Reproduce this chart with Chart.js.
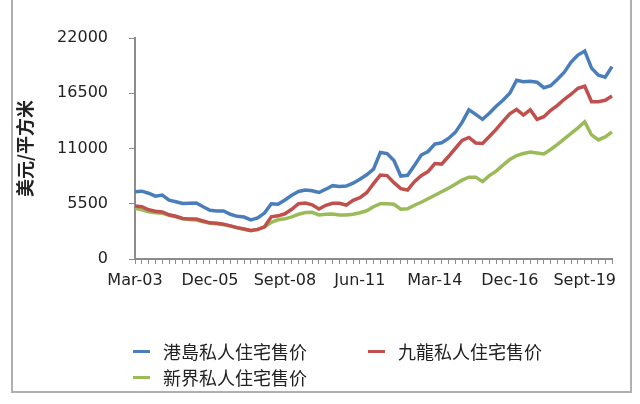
<!DOCTYPE html>
<html>
<head>
<meta charset="utf-8">
<script src="https://cdn.jsdelivr.net/npm/chart.js@4"></script>
<style>
  html, body { margin: 0; padding: 0; background: #fff; }
  #wrap { position: relative; width: 640px; height: 404px; }
  #priceChart { position: absolute; left: 0; top: 0; }
  #frame {
    position: absolute; left: 11px; top: -2px; width: 617px; height: 391px;
    border: 2px solid #b0b0b0; pointer-events: none;
  }
  .legend { position: absolute; left: 0; top: 0; width: 640px; height: 404px;
            font: 18px "Noto Sans CJK SC", sans-serif; color: #222; pointer-events: none; }
  .legend div { position: absolute; white-space: nowrap; height: 24px; line-height: 24px; }
  .legend span.sw { position: absolute; left: 0; top: 11px; width: 17px; height: 3px; }
  .legend span.tx { position: absolute; left: 30px; top: 0; }
</style>
</head>
<body>
<div id="wrap">
  <canvas id="priceChart" width="640" height="404"></canvas>
  <div id="frame"></div>
  <div class="legend" id="legend"></div>
</div>
<script>
// quarterly categories, Mar-03 .. Sept-20
const quarters = [
  "Mar-03","Jun-03","Sept-03","Dec-03","Mar-04","Jun-04","Sept-04","Dec-04",
  "Mar-05","Jun-05","Sept-05","Dec-05","Mar-06","Jun-06","Sept-06","Dec-06",
  "Mar-07","Jun-07","Sept-07","Dec-07","Mar-08","Jun-08","Sept-08","Dec-08",
  "Mar-09","Jun-09","Sept-09","Dec-09","Mar-10","Jun-10","Sept-10","Dec-10",
  "Mar-11","Jun-11","Sept-11","Dec-11","Mar-12","Jun-12","Sept-12","Dec-12",
  "Mar-13","Jun-13","Sept-13","Dec-13","Mar-14","Jun-14","Sept-14","Dec-14",
  "Mar-15","Jun-15","Sept-15","Dec-15","Mar-16","Jun-16","Sept-16","Dec-16",
  "Mar-17","Jun-17","Sept-17","Dec-17","Mar-18","Jun-18","Sept-18","Dec-18",
  "Mar-19","Jun-19","Sept-19","Dec-19","Mar-20","Jun-20","Sept-20"
];

// 港島
const hkIsland = [
  6700, 6750, 6550, 6250, 6370, 5850, 5700, 5520, 5550, 5580,
  5200, 4850, 4780, 4780, 4450, 4250, 4180, 3900, 4080, 4570,
  5500, 5450, 5870, 6350, 6720, 6870, 6800, 6620, 6950, 7300,
  7220, 7260, 7550, 7950, 8380, 8950, 10600, 10500, 9800, 8260,
  8330, 9300, 10350, 10700, 11440, 11570, 12000, 12600, 13600, 14850,
  14400, 13900, 14500, 15200, 15800, 16500, 17800, 17650, 17700, 17600,
  17050, 17250, 17900, 18600, 19600, 20300, 20700, 19000, 18300, 18100,
  19150
];

// 九龍
const kowloon = [
  5270, 5200, 4900, 4750, 4680, 4400, 4250, 4030, 3980, 3970,
  3780, 3600, 3550, 3450, 3300, 3120, 2980, 2830, 2950, 3200,
  4200, 4300, 4500, 4950, 5500, 5580, 5400, 4980, 5350, 5550,
  5550, 5370, 5850, 6100, 6600, 7500, 8350, 8300, 7600, 7000,
  6870, 7700, 8300, 8700, 9500, 9450, 10200, 11000, 11800, 12100,
  11550, 11500, 12200, 12900, 13700, 14450, 14900, 14330, 14850, 13900,
  14160, 14800, 15300, 15900, 16400, 17000, 17200, 15650, 15650, 15800,
  16220
];

// 新界
const newTerritories = [
  5050, 4900, 4700, 4600, 4550, 4350, 4200, 4000, 3920, 3880,
  3700, 3550, 3500, 3420, 3280, 3100, 2960, 2820, 2930, 3180,
  3650, 3900, 4000, 4200, 4450, 4620, 4650, 4380, 4450, 4480,
  4380, 4380, 4450, 4600, 4800, 5200, 5500, 5500, 5450, 4950,
  5000, 5350, 5650, 6000, 6350, 6700, 7050, 7450, 7850, 8150,
  8150, 7700, 8300, 8750, 9350, 9900, 10300, 10500, 10650, 10550,
  10450, 10900, 11400, 11950, 12500, 13050, 13650, 12350, 11850, 12150,
  12650
];

const seriesNames = ["港島私人住宅售价", "九龍私人住宅售价", "新界私人住宅售价"];
const seriesColors = ["#4a7ebb", "#c0504d", "#9bbb59"];
const yTicks = [0, 5500, 11000, 16500, 22000];
const labelEvery = 11;

const axisGray = "#8c8c8c";
const tickFont = { family: "'DejaVu Sans', Verdana, sans-serif", size: 16 };

function makeSet(i, values) {
    return {
        label: seriesNames[i],
        data: values,
        borderColor: seriesColors[i],
        backgroundColor: seriesColors[i],
        borderWidth: 3.5,
        pointRadius: 0,
        tension: 0,
        fill: false
    };
}

new Chart(document.getElementById("priceChart").getContext("2d"), {
    type: "line",
    data: {
        labels: quarters,
        datasets: [makeSet(0, hkIsland), makeSet(1, kowloon), makeSet(2, newTerritories)]
    },
    options: {
        responsive: false,
        animation: false,
        layout: { padding: { left: 14, top: 38, right: 28, bottom: 111 } },
        plugins: {
            legend: { display: false },
            tooltip: { enabled: false }
        },
        scales: {
            x: {
                offset: false,
                afterFit: function (s) { s.height = 34; },
                border: { display: true, color: axisGray, width: 2 },
                grid: { drawOnChartArea: false, drawTicks: true, tickLength: 5, color: axisGray, lineWidth: 1 },
                ticks: {
                    autoSkip: false,
                    minRotation: 0,
                    maxRotation: 0,
                    padding: 7,
                    color: "#222",
                    font: tickFont,
                    callback: function (v, i) { return i % labelEvery === 0 ? quarters[i] : ""; }
                }
            },
            y: {
                min: yTicks[0],
                max: yTicks[yTicks.length - 1],
                afterFit: function (s) { s.width = 121; },
                afterBuildTicks: function (s) { s.ticks = yTicks.map(function (v) { return { value: v }; }); },
                border: { display: true, color: axisGray, width: 2 },
                grid: { drawOnChartArea: false, drawTicks: true, tickLength: 6, color: axisGray, lineWidth: 1 },
                ticks: {
                    padding: 21,
                    color: "#222",
                    font: tickFont,
                    callback: function (v) { return String(v); }
                },
                title: {
                    display: true,
                    text: "美元/平方米",
                    color: "#222",
                    padding: { top: 0, bottom: 0 },
                    font: { family: "'Noto Sans CJK SC', sans-serif", size: 18, weight: "bold" }
                }
            }
        }
    }
});

// legend laid out like the spreadsheet one: two items on row one, one on row two
const legendSpots = [[133, 339], [368, 339], [133, 365]];
const legendBox = document.getElementById("legend");
seriesNames.forEach(function (name, i) {
    const item = document.createElement("div");
    item.style.left = legendSpots[i][0] + "px";
    item.style.top = legendSpots[i][1] + "px";
    item.innerHTML = '<span class="sw" style="background:' + seriesColors[i] + '"></span><span class="tx">' + name + '</span>';
    legendBox.appendChild(item);
});
</script>
</body>
</html>
